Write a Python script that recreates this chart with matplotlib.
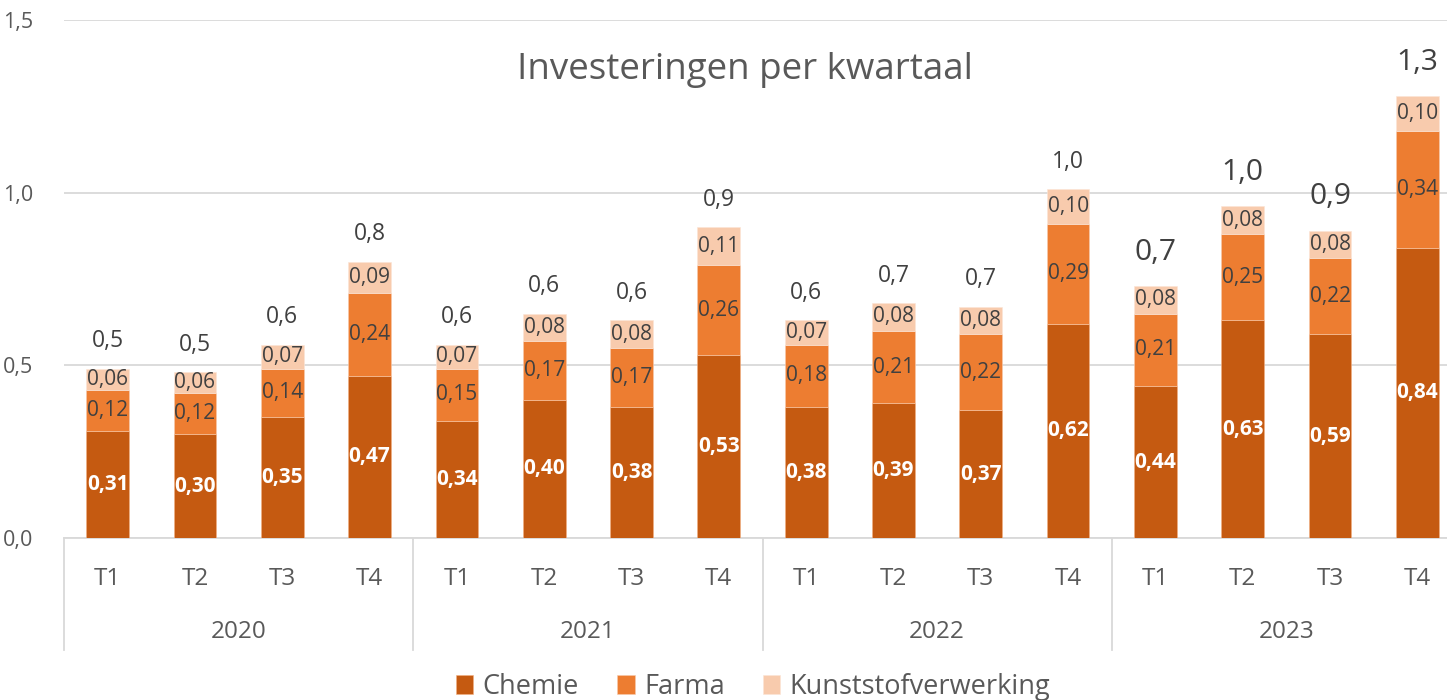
import matplotlib
matplotlib.use("Agg")
import matplotlib.pyplot as plt
import matplotlib.transforms as mtransforms
import numpy as np

years = ["2020", "2021", "2022", "2023"]
quarters = ["T1", "T2", "T3", "T4"]
chemie = [0.31, 0.30, 0.35, 0.47, 0.34, 0.40, 0.38, 0.53, 0.38, 0.39, 0.37, 0.62, 0.44, 0.63, 0.59, 0.84]
farma = [0.12, 0.12, 0.14, 0.24, 0.15, 0.17, 0.17, 0.26, 0.18, 0.21, 0.22, 0.29, 0.21, 0.25, 0.22, 0.34]
kunststof = [0.06, 0.06, 0.07, 0.09, 0.07, 0.08, 0.08, 0.11, 0.07, 0.08, 0.08, 0.10, 0.08, 0.08, 0.08, 0.10]
totals_shown = [0.5, 0.5, 0.6, 0.8, 0.6, 0.6, 0.6, 0.9, 0.6, 0.7, 0.7, 1.0, 0.7, 1.0, 0.9, 1.3]
series_names = ["Chemie", "Farma", "Kunststofverwerking"]
colors = ["#C55A11", "#ED7D31", "#F8CBAD"]

plt.rcParams['font.family'] = ['Open Sans', 'DejaVu Sans']

W, H = 1447, 700
fig = plt.figure(figsize=(W / 100, H / 100), dpi=100)
left, right, bottom, top = 64, 1461, 538, 20
ax = fig.add_axes([left / W, (H - bottom) / H, (right - left) / W, (bottom - top) / H])

n = len(chemie)
x = np.arange(n)
ch = np.array(chemie); fa = np.array(farma); ku = np.array(kunststof)
tot = ch + fa + ku
bw = 0.49
ax.bar(x, ch, bw, color=colors[0], edgecolor="#F4B183", linewidth=0.4, label=series_names[0], zorder=3)
ax.bar(x, fa, bw, bottom=ch, color=colors[1], edgecolor="#F8CBAD", linewidth=0.4, label=series_names[1], zorder=3)
ax.bar(x, ku, bw, bottom=ch + fa, color=colors[2], edgecolor="#FBE5D6", linewidth=0.4, label=series_names[2], zorder=3)

def fmt(v, d):
    return f"{v:.{d}f}".replace(".", ",")

for i in range(n):
    ax.text(x[i], ch[i] / 2, fmt(ch[i], 2), ha="center", va="center", color="white",
            fontsize=15, fontweight="bold", zorder=4)
    ax.text(x[i], ch[i] + fa[i] / 2, fmt(fa[i], 2), ha="center", va="center", color="#404040",
            fontsize=15, zorder=4)
    ax.text(x[i], ch[i] + fa[i] + ku[i] / 2, fmt(ku[i], 2), ha="center", va="center", color="#404040",
            fontsize=15, zorder=4)
    big = i >= 12
    ax.text(x[i], tot[i] + (0.098 if big else 0.08), fmt(totals_shown[i], 1), ha="center", va="center",
            color="#404040", fontsize=21.5 if big else 16.5, zorder=4)

ax.set_ylim(0, 1.5)
ax.set_xlim(-0.5, n - 0.5)
ax.set_yticks([0, 0.5, 1.0, 1.5])
ax.set_yticklabels([fmt(v, 1) for v in [0, 0.5, 1.0, 1.5]])
ax.yaxis.grid(True, color="#D9D9D9", linewidth=1.3, zorder=0)
ax.set_axisbelow(True)
for s in ["top", "right", "left"]:
    ax.spines[s].set_visible(False)
ax.spines["bottom"].set_color("#D9D9D9")
ax.spines["bottom"].set_linewidth(1.3)
ax.tick_params(axis="y", length=0, labelsize=15.5, labelcolor="#595959", pad=22)
ax.set_xticks(x)
ax.set_xticklabels([quarters[i % 4] for i in range(n)])
ax.tick_params(axis="x", length=0, labelsize=17.5, labelcolor="#595959", pad=21)

trans = mtransforms.blended_transform_factory(ax.transData, ax.transAxes)
sep_bottom = -(650 - 538) / (bottom - top)
for k in range(len(years) + 1):
    xs = k * 4 - 0.5
    ax.plot([xs, xs], [0, sep_bottom], transform=trans, color="#D9D9D9", linewidth=1.3, clip_on=False)
for k, yr in enumerate(years):
    ax.text(k * 4 + 1.5, -(632 - 538) / (bottom - top), yr, transform=trans, ha="center", va="center",
            fontsize=17.5, color="#595959")

fig.text(745 / W, 1 - 70 / H, "Investeringen per kwartaal", ha="center", va="center", fontsize=26.5, color="#595959")

fig.legend(loc="center", bbox_to_anchor=(753 / W, 1 - 687 / H), ncol=3, frameon=False, fontsize=19.5,
           labelcolor="#595959", handlelength=0.65, handleheight=0.65, handletextpad=0.35, columnspacing=1.4)

fig.savefig("out.png", dpi=100)
